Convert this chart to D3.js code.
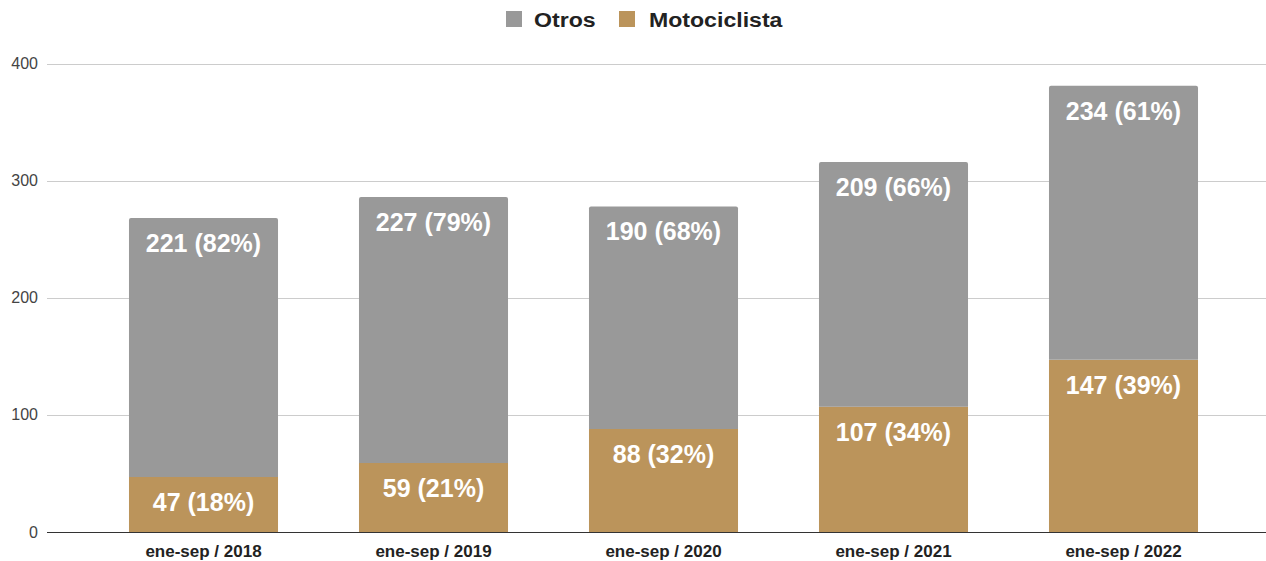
<!DOCTYPE html>
<html><head><meta charset="utf-8">
<script src="https://cdn.jsdelivr.net/npm/d3@7"></script>
<style>
html,body{margin:0;padding:0;background:#fff;}
svg{display:block;font-family:"Liberation Sans",Arial,sans-serif;}
</style></head>
<body><svg id="c" width="1266" height="561"></svg>
<script>
const categories = ["ene-sep / 2018","ene-sep / 2019","ene-sep / 2020","ene-sep / 2021","ene-sep / 2022"];
const motociclista = [47, 59, 88, 107, 147];
const otros = [221, 227, 190, 209, 234];
const seriesNames = ["Otros", "Motociclista"];
const yTicks = [0, 100, 200, 300, 400];

const colors = {Otros: "#999999", Motociclista: "#bb945b"};
const svg = d3.select("#c");

const x = d3.scaleBand().domain(categories).range([88.5, 1238.5]).paddingInner(0.352).paddingOuter(0.176);
const y = d3.scaleLinear().domain([0, 400]).range([532, 63.5]);

// gridlines
svg.append("g").selectAll("line").data(yTicks.filter(d => d > 0)).join("line")
  .attr("x1", 47).attr("x2", 1266)
  .attr("y1", d => Math.round(y(d)) + 0.5).attr("y2", d => Math.round(y(d)) + 0.5)
  .attr("stroke", "#cccccc").attr("stroke-width", 1);

// y tick labels
svg.append("g").selectAll("text").data(yTicks).join("text")
  .attr("x", 38).attr("y", d => y(d)).attr("dy", "0.35em")
  .attr("text-anchor", "end").attr("font-size", 16).attr("fill", "#444")
  .text(d => d);

const rows = categories.map((c, i) => ({cat: c, Motociclista: motociclista[i], Otros: otros[i], total: motociclista[i] + otros[i]}));
const stack = d3.stack().keys(["Motociclista", "Otros"])(rows);

const gBars = svg.append("g");
stack.forEach(layer => {
  const key = layer.key;
  layer.forEach((d, i) => {
    const x0 = x(d.data.cat), w = x.bandwidth();
    const yTop = y(d[1]), yBot = y(d[0]);
    if (key === "Otros") {
      const r = 2;
      gBars.append("path")
        .attr("d", `M${x0},${yBot} L${x0},${yTop + r} Q${x0},${yTop} ${x0 + r},${yTop} L${x0 + w - r},${yTop} Q${x0 + w},${yTop} ${x0 + w},${yTop + r} L${x0 + w},${yBot} Z`)
        .attr("fill", colors[key]);
    } else {
      gBars.append("rect").attr("x", x0).attr("y", yTop).attr("width", w).attr("height", yBot - yTop)
        .attr("fill", colors[key]);
    }
    const v = d.data[key];
    const pct = Math.round(v / d.data.total * 100);
    gBars.append("text")
      .attr("x", x0 + w / 2).attr("y", yTop + 34)
      .attr("text-anchor", "middle").attr("fill", "#fff")
      .attr("font-size", 25).attr("font-weight", "bold")
      .text(`${v} (${pct}%)`);
  });
});

// baseline
svg.append("line").attr("x1", 47).attr("x2", 1266).attr("y1", 532.5).attr("y2", 532.5)
  .attr("stroke", "#333").attr("stroke-width", 1);

// x labels
svg.append("g").selectAll("text").data(categories).join("text")
  .attr("x", d => x(d) + x.bandwidth() / 2).attr("y", 557)
  .attr("text-anchor", "middle").attr("font-size", 17).attr("font-weight", "bold").attr("fill", "#222")
  .text(d => d);

// legend
const legend = svg.append("g");
const legItems = [{name: "Otros", sq: 506, tx: 534}, {name: "Motociclista", sq: 619, tx: 649}];
legItems.forEach(it => {
  legend.append("rect").attr("x", it.sq).attr("y", 11).attr("width", 16).attr("height", 16).attr("fill", colors[it.name]);
  legend.append("text").attr("transform", `translate(${it.tx},27) scale(1.1,1)`).attr("font-size", 21).attr("font-weight", "bold")
    .attr("fill", "#222").text(it.name);
});
</script></body></html>
